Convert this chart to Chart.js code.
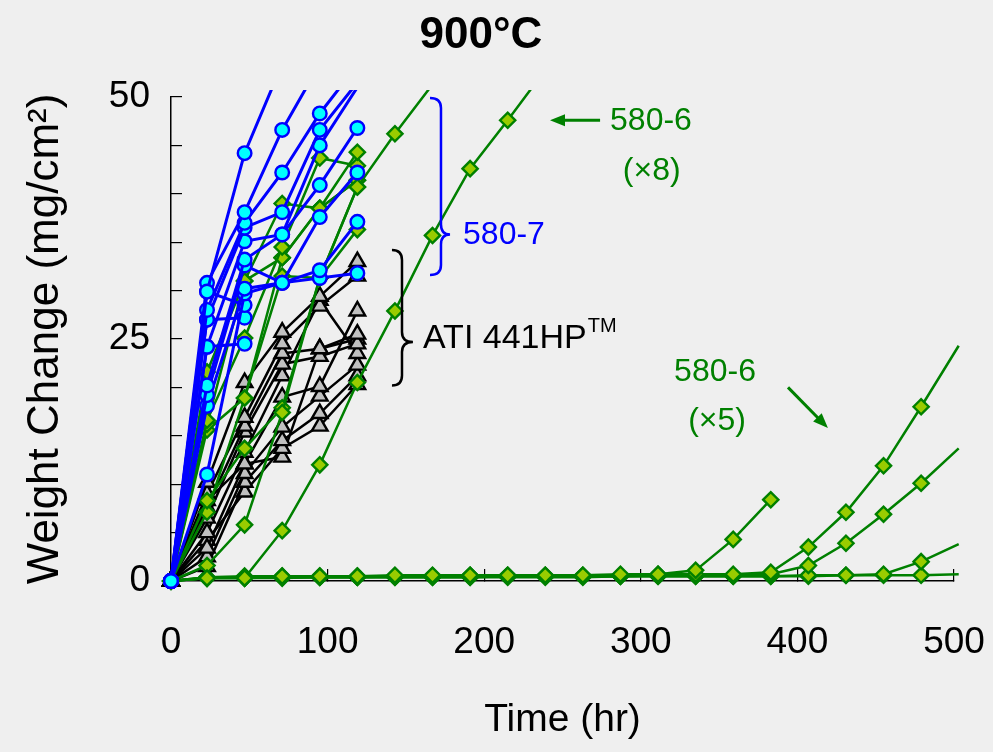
<!DOCTYPE html>
<html>
<head>
<meta charset="utf-8">
<title>900°C Weight Change</title>
<script src="https://cdn.jsdelivr.net/npm/chart.js@4.4.1/dist/chart.umd.min.js"></script>
<style>
  html, body { margin: 0; padding: 0; background: #efefef; }
  #wrap { width: 993px; height: 752px; }
</style>
</head>
<body>
<div id="wrap"><canvas id="chart" width="993" height="752"></canvas></div>
<script>
// exposure times (hr), one value per column of each series below
const times = [0, 23, 47, 71, 95, 119, 143, 167, 191, 215, 239, 263, 287, 311, 335, 359, 383, 407, 431, 455, 479, 503];

// 580-7 (blue circles), mg/cm2
const alloy580_7 = [
  [0, 29.9, 44.2, 53.4],
  [0, 30.8, 38.1, 46.6, 53.4],
  [0, 28.0, 37.0, 42.2, 48.3, 53.3],
  [0, 27.0, 36.5, 38.1, 46.6, 51.5],
  [0, 24.2, 35.1, 35.8, 45.0, 51.0],
  [0, 20.2, 33.2, 35.8, 40.9, 46.8],
  [0, 19.2, 32.6, 30.8, 37.6, 42.2],
  [0, 18.1, 30.2, 30.8, 32.1, 37.1],
  [0, 11.0, 29.7, 30.8, 31.3, 31.8],
  [0, 29.9, 28.5],
  [0, 27.0, 27.2],
  [0, 24.2, 24.5]
];

// ATI 441HP (grey triangles)
const ati441HP = [
  [0, 10.2, 20.5, 25.7, 29.4, 33.0],
  [0, 9.0, 16.9, 24.5, 28.4, 31.5],
  [0, 7.6, 16.0, 23.5, 24.0, 25.5],
  [0, 6.5, 15.4, 22.4, 23.2, 24.5],
  [0, 5.0, 13.3, 21.2, 29.0, 23.5],
  [0, 3.4, 12.1, 19.0, 20.1, 27.9],
  [0, 2.5, 11.1, 15.9, 19.1, 22.3],
  [0, 1.5, 10.2, 14.5, 17.3, 21.2],
  [0, 4.2, 9.2, 13.7, 16.0, 20.3],
  [0, 8.3, 12.1, 12.8, 24.0, 25.0]
];

// 580-6 (x8), early breakaway
const alloy580_6a = [
  [0, 0.3, 0.3, 5.2, 12.0, 20.5, 27.9, 35.7, 42.6, 47.6, 52.8],
  [0, 1.6, 5.8, 17.4, 31.3, 40.7, 46.2, 51.3],
  [0, 21.6, 31.0, 39.0, 38.5, 44.3],
  [0, 16.6, 25.1, 34.5, 43.7, 42.9],
  [0, 16.2, 31.0, 33.4, 38.5, 41.4],
  [0, 15.6, 18.9, 31.5, 31.3, 36.3],
  [0, 8.3, 13.7, 17.9, 31.3, 40.7],
  [0, 7.1, 18.9, 33.4, 38.5, 41.4]
];

// 580-6 (x5), protective until ~350-450 hr
const alloy580_6b = [
  [0, 0.4, 0.5, 0.5, 0.5, 0.5, 0.6, 0.6, 0.6, 0.6, 0.6, 0.6, 0.7, 0.7, 1.1, 4.3, 8.4],
  [0, 0.4, 0.4, 0.5, 0.5, 0.5, 0.5, 0.5, 0.6, 0.6, 0.6, 0.6, 0.6, 0.7, 0.7, 0.7, 0.9, 3.5, 7.1, 11.9, 18.0, 24.3],
  [0, 0.3, 0.4, 0.4, 0.4, 0.4, 0.5, 0.5, 0.5, 0.5, 0.5, 0.5, 0.5, 0.6, 0.6, 0.6, 0.7, 1.6, 3.9, 6.9, 10.1, 13.7],
  [0, 0.3, 0.3, 0.4, 0.4, 0.4, 0.4, 0.4, 0.4, 0.5, 0.5, 0.5, 0.5, 0.5, 0.5, 0.5, 0.5, 0.6, 0.6, 0.7, 2.0, 3.8],
  [0, 0.3, 0.3, 0.3, 0.4, 0.4, 0.4, 0.4, 0.4, 0.4, 0.4, 0.4, 0.5, 0.5, 0.5, 0.5, 0.5, 0.5, 0.6, 0.6, 0.6, 0.7]
];

const xMax = 500;
const yMax = 50;
const yLabelled = [0, 25, 50];

const BLUE = '#0000ff';
const GREEN = '#008000';
const FONT = '"Liberation Sans", Arial, Helvetica, sans-serif';

const styles = {
  blue: { line: BLUE, fill: '#00ffff', shape: 'circle', size: 6.8, width: 3 },
  black: { line: '#000000', fill: '#c0c0c0', shape: 'triangle', size: 9, width: 2.5 },
  green: { line: GREEN, fill: '#99cc00', shape: 'rectRot', size: 7.6, width: 2.5 }
};

function makeSet(values, style, order) {
  return {
    data: values.map((v, i) => ({ x: times[i], y: v })),
    borderColor: style.line,
    backgroundColor: style.fill,
    pointBackgroundColor: style.fill,
    pointBorderColor: style.line,
    pointStyle: style.shape,
    pointRadius: c => (c.raw && (c.raw.x > xMax || c.raw.y > yMax) ? 0 : style.size),
    pointBorderWidth: 2.4,
    borderWidth: style.width,
    tension: 0,
    clip: { left: 10, top: 7, right: 9, bottom: 10 },
    order: order
  };
}

const datasets = [
  ...alloy580_7.map(s => makeSet(s, styles.blue, 1)),
  ...alloy580_6a.map(s => makeSet(s, styles.green, 2)),
  ...ati441HP.map(s => makeSet(s, styles.black, 3)),
  ...alloy580_6b.map(s => makeSet(s, styles.green, 4))
];

function drawArrow(ctx, x1, y1, x2, y2, color) {
  const a = Math.atan2(y2 - y1, x2 - x1);
  const head = 15;
  ctx.strokeStyle = color;
  ctx.fillStyle = color;
  ctx.lineWidth = 3;
  ctx.beginPath();
  ctx.moveTo(x1, y1);
  ctx.lineTo(x2 - Math.cos(a) * head * 0.8, y2 - Math.sin(a) * head * 0.8);
  ctx.stroke();
  ctx.beginPath();
  ctx.moveTo(x2, y2);
  ctx.lineTo(x2 - head * Math.cos(a) + 6 * Math.sin(a), y2 - head * Math.sin(a) - 6 * Math.cos(a));
  ctx.lineTo(x2 - head * Math.cos(a) - 6 * Math.sin(a), y2 - head * Math.sin(a) + 6 * Math.cos(a));
  ctx.closePath();
  ctx.fill();
}

// right-pointing curly brace
function drawBrace(ctx, x0, xm, xTip, yTop, yTip, yBot, color) {
  const r = 10;
  ctx.strokeStyle = color;
  ctx.lineWidth = 2.5;
  ctx.beginPath();
  ctx.moveTo(x0, yTop);
  ctx.quadraticCurveTo(xm, yTop, xm, yTop + r);
  ctx.lineTo(xm, yTip - r);
  ctx.quadraticCurveTo(xm, yTip, xTip, yTip);
  ctx.quadraticCurveTo(xm, yTip, xm, yTip + r);
  ctx.lineTo(xm, yBot - r);
  ctx.quadraticCurveTo(xm, yBot, x0, yBot);
  ctx.stroke();
}

const background = {
  id: 'background',
  beforeDraw(chart) {
    const ctx = chart.ctx;
    ctx.save();
    ctx.fillStyle = '#efefef';
    ctx.fillRect(0, 0, chart.width, chart.height);
    ctx.restore();
  }
};

const notes = {
  id: 'notes',
  afterDraw(chart) {
    const { ctx, scales: { x, y } } = chart;
    const px = v => x.getPixelForValue(v);
    const py = v => y.getPixelForValue(v);
    ctx.save();

    ctx.fillStyle = '#000';
    ctx.font = 'bold 44px ' + FONT;
    ctx.textAlign = 'center';
    ctx.textBaseline = 'middle';
    ctx.fillText('900°C', 481, 36);

    ctx.font = '32px ' + FONT;
    ctx.fillStyle = GREEN;
    ctx.fillText('580-6', px(306.5), py(47.5));
    ctx.fillText('(×8)', px(307), py(42.3));
    drawArrow(ctx, px(274), py(47.6), px(242), py(47.6), GREEN);

    ctx.fillStyle = GREEN;
    ctx.fillText('580-6', px(347.4), py(21.6));
    ctx.fillText('(×5)', px(348.7), py(16.5));
    drawArrow(ctx, px(394), py(20.0), px(419.5), py(15.8), GREEN);

    drawBrace(ctx, px(165.4), px(172.4), px(178.2), py(49.9), py(35.8), py(31.6), BLUE);
    ctx.textAlign = 'left';
    ctx.fillStyle = BLUE;
    ctx.fillText('580-7', px(186.5), py(35.7));

    drawBrace(ctx, px(141.1), px(147.5), px(154.5), py(34.2), py(24.7), py(20.2), '#000');
    ctx.fillStyle = '#000';
    ctx.font = '34px ' + FONT;
    const label = 'ATI 441HP';
    ctx.fillText(label, px(160.9), py(25.0));
    const w = ctx.measureText(label).width;
    ctx.font = '20px ' + FONT;
    ctx.fillText('TM', px(160.9) + w + 1, py(25.0) - 13);

    ctx.restore();
  }
};

new Chart(document.getElementById('chart'), {
  type: 'line',
  data: { datasets },
  options: {
    responsive: false,
    animation: false,
    events: [],
    layout: { padding: { top: 97, right: 39, left: 0, bottom: 0 } },
    plugins: {
      legend: { display: false },
      tooltip: { enabled: false },
      title: { display: false }
    },
    scales: {
      x: {
        type: 'linear',
        min: 0,
        max: xMax,
        ticks: { stepSize: 100, color: '#000', font: { family: FONT, size: 37 }, padding: 52, maxRotation: 0 },
        grid: { drawOnChartArea: false, tickLength: -12, color: '#000', lineWidth: 1.2 },
        border: { color: '#000', width: 1.5 },
        title: { display: true, text: 'Time (hr)', color: '#000', font: { family: FONT, size: 39 }, padding: { top: 0, bottom: 8 } },
        afterFit: s => { s.height = 171; s.paddingLeft = 0; s.paddingRight = 0; }
      },
      y: {
        min: 0,
        max: yMax,
        ticks: {
          stepSize: 5,
          autoSkip: false,
          color: '#000',
          font: { family: FONT, size: 37 },
          padding: 32,
          callback: v => (yLabelled.includes(v) ? v : '')
        },
        grid: { drawOnChartArea: false, tickLength: -11, color: '#000', lineWidth: 1.2 },
        border: { color: '#000', width: 1.5 },
        title: { display: true, text: 'Weight Change (mg/cm²)', color: '#000', font: { family: FONT, size: 44 }, padding: { top: 19, bottom: 0 } },
        afterFit: s => { s.width = 171; s.paddingTop = 0; s.paddingBottom = 0; }
      }
    }
  },
  plugins: [background, notes]
});
</script>
</body>
</html>
